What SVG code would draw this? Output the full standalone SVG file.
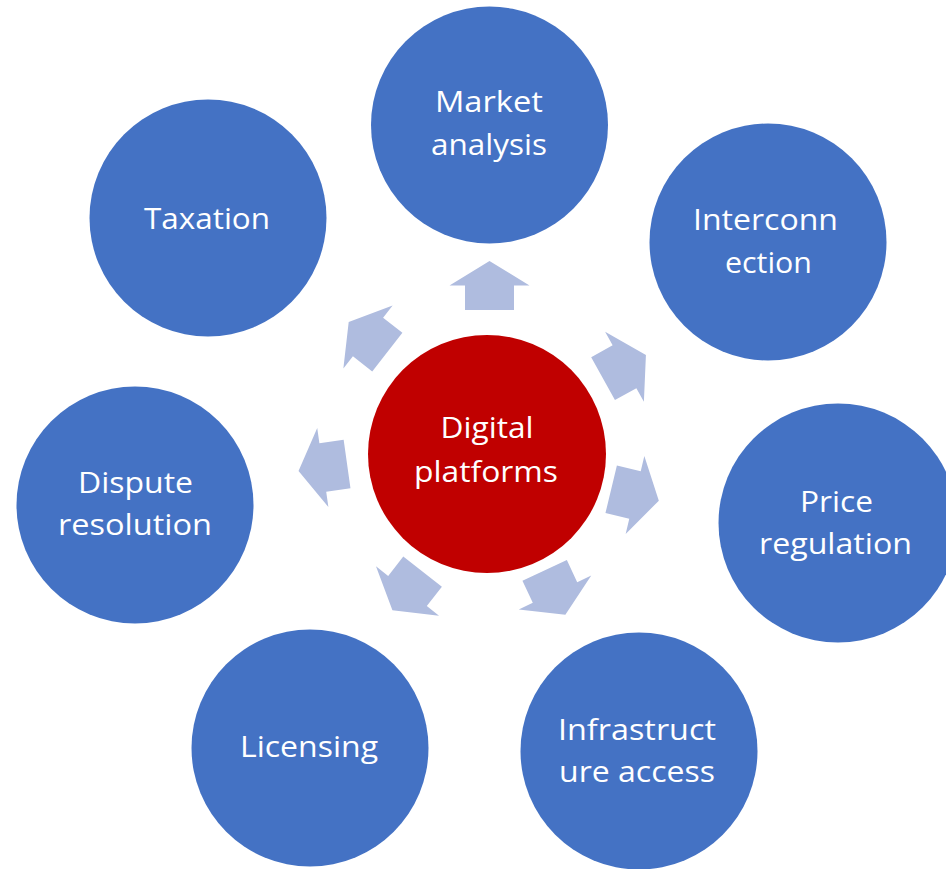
<svg xmlns="http://www.w3.org/2000/svg" xmlns:xlink="http://www.w3.org/1999/xlink" width="946" height="869" viewBox="0 0 946 869">
<style>
.node{fill:#4472C4}
.hub{fill:#C00000}
.arrow{fill:#AFBCDF}
.lbl{font-family:"Open Sans","Liberation Sans",Arial,sans-serif;font-size:29px;fill:#FFFFFF;text-anchor:middle}
</style>
<defs>
<polygon id="arr" points="-24.5,-24.5 0,-24.5 0,-40 24.5,0 0,40 0,24.5 -24.5,24.5"/>
</defs>
<rect width="946" height="869" fill="#FFFFFF"/>
<g id="connectors">
<use class="arrow" xlink:href="#arr" href="#arr" transform="translate(489.5,285.5) rotate(-90)"/>
<use class="arrow" xlink:href="#arr" href="#arr" transform="translate(624.5,366.8) rotate(-29)"/>
<use class="arrow" xlink:href="#arr" href="#arr" transform="translate(635,495) rotate(13.5)"/>
<use class="arrow" xlink:href="#arr" href="#arr" transform="translate(555,592.5) rotate(65)"/>
<use class="arrow" xlink:href="#arr" href="#arr" transform="translate(407.5,591) rotate(128)"/>
<use class="arrow" xlink:href="#arr" href="#arr" transform="translate(322.8,467.5) rotate(172)"/>
<use class="arrow" xlink:href="#arr" href="#arr" transform="translate(368,337) rotate(-142)"/>
</g>
<g id="hub">
<circle class="hub" cx="487" cy="454" r="119"/>
<text class="lbl" x="487" y="438" textLength="93" lengthAdjust="spacingAndGlyphs">Digital</text>
<text class="lbl" x="486" y="482" textLength="144" lengthAdjust="spacingAndGlyphs">platforms</text>
</g>
<g id="market">
<circle class="node" cx="489.5" cy="125" r="118.5"/>
<text class="lbl" x="489" y="112" textLength="108" lengthAdjust="spacingAndGlyphs">Market</text>
<text class="lbl" x="489" y="155" textLength="116" lengthAdjust="spacingAndGlyphs">analysis</text>
</g>
<g id="interconnection">
<circle class="node" cx="768" cy="242" r="118.5"/>
<text class="lbl" x="765.5" y="230" textLength="145" lengthAdjust="spacingAndGlyphs">Interconn</text>
<text class="lbl" x="768.5" y="273" textLength="87" lengthAdjust="spacingAndGlyphs">ection</text>
</g>
<g id="price">
<circle class="node" cx="838" cy="523" r="119.5"/>
<text class="lbl" x="836.5" y="512" textLength="73" lengthAdjust="spacingAndGlyphs">Price</text>
<text class="lbl" x="835.5" y="554" textLength="153" lengthAdjust="spacingAndGlyphs">regulation</text>
</g>
<g id="infrastructure">
<circle class="node" cx="639" cy="751" r="118.5"/>
<text class="lbl" x="637" y="740" textLength="158" lengthAdjust="spacingAndGlyphs">Infrastruct</text>
<text class="lbl" x="637" y="782" textLength="156" lengthAdjust="spacingAndGlyphs">ure access</text>
</g>
<g id="licensing">
<circle class="node" cx="310" cy="748" r="118.5"/>
<text class="lbl" x="309" y="757" textLength="138" lengthAdjust="spacingAndGlyphs">Licensing</text>
</g>
<g id="dispute">
<circle class="node" cx="135" cy="505" r="118.5"/>
<text class="lbl" x="135.5" y="493" textLength="115" lengthAdjust="spacingAndGlyphs">Dispute</text>
<text class="lbl" x="135" y="535" textLength="154" lengthAdjust="spacingAndGlyphs">resolution</text>
</g>
<g id="taxation">
<circle class="node" cx="208" cy="218" r="118.5"/>
<text class="lbl" x="207" y="229" textLength="126" lengthAdjust="spacingAndGlyphs">Taxation</text>
</g>
</svg>
